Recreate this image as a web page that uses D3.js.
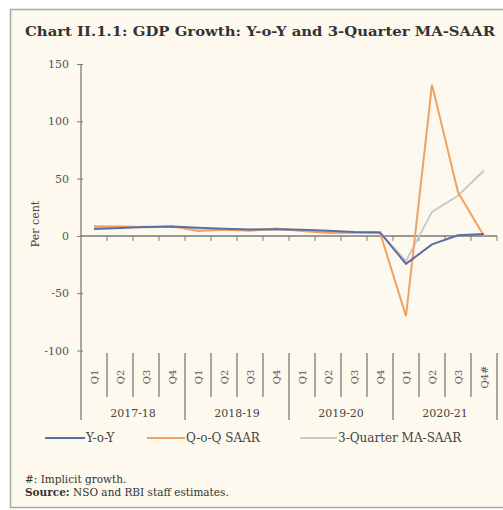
<!DOCTYPE html>
<html><head><meta charset="utf-8">
<script src="https://cdn.jsdelivr.net/npm/d3@7"></script>
<style>
html,body{margin:0;padding:0;background:#fff;}
svg{display:block;}
text{font-family:"DejaVu Serif",serif;}
</style></head>
<body>
<svg id="c" width="503" height="510"></svg>
<script>
const years = ["2017-18","2018-19","2019-20","2020-21"];
const quarters = ["Q1","Q2","Q3","Q4","Q1","Q2","Q3","Q4","Q1","Q2","Q3","Q4","Q1","Q2","Q3","Q4#"];
const yoy   = [6.0, 6.8, 7.7, 8.1, 7.1, 6.2, 5.6, 5.7, 5.4, 4.6, 3.3, 3.0, -24.4, -7.4, 0.5, 1.6];
const qoq   = [8.5, 8.2, 7.6, 8.3, 4.2, 5.4, 4.6, 6.4, 4.2, 2.6, 2.8, 3.0, -70.0, 132.0, 38.0, 0.0];
const maSaar= [7.0, 8.0, 8.0, 7.8, 6.5, 5.8, 5.2, 5.6, 5.2, 4.0, 3.2, 3.0, -22.0, 21.0, 35.0, 57.0];
const yTicks = [150, 100, 50, 0, -50, -100];
const seriesNames = ["Y-o-Y","Q-o-Q SAAR","3-Quarter MA-SAAR"];
const seriesColors = ["#5a6ea6","#f0a262","#c9c9c7"];

const svg = d3.select("#c");
// frame
svg.append("rect").attr("x",10.5).attr("y",9.5).attr("width",500).attr("height",498)
  .attr("fill","#fdf9ee").attr("stroke","#a8a8a4").attr("stroke-width",1.5);

svg.append("text").attr("x",25).attr("y",36).attr("font-size",13).attr("font-weight","bold")
  .attr("fill","#333").attr("textLength",470).attr("lengthAdjust","spacingAndGlyphs")
  .text("Chart II.1.1: GDP Growth: Y-o-Y and 3-Quarter MA-SAAR");

const x0 = 81, step = 26;
const x = d3.scaleLinear().domain([0,16]).range([x0, x0+16*step]);
const y = d3.scaleLinear().domain([-100,150]).range([350.5, 64]);
const gridColor = "#7a7a78";

// y axis
const yAxis = d3.axisLeft(y).tickValues(yTicks).tickSize(4).tickPadding(8).tickFormat(d=>String(d));
const gy = svg.append("g").attr("transform",`translate(${x0},0)`).call(yAxis);
gy.select(".domain").remove();
gy.selectAll(".tick line").attr("stroke",gridColor).attr("x2",-4).attr("x1",2);
gy.selectAll(".tick text").attr("font-size",11).attr("fill","#555").attr("font-family","DejaVu Serif");
svg.append("line").attr("x1",x0).attr("x2",x0).attr("y1",64).attr("y2",420).attr("stroke",gridColor).attr("stroke-width",1.3);

svg.append("text").attr("transform","translate(39,224) rotate(-90)").attr("text-anchor","middle")
  .attr("font-size",11).attr("fill","#444").text("Per cent");

// zero line with ticks
svg.append("line").attr("x1",x0).attr("x2",x(16)).attr("y1",y(0)).attr("y2",y(0)).attr("stroke",gridColor).attr("stroke-width",1.5);
d3.range(1,17).forEach(i=>{
  svg.append("line").attr("x1",x(i)).attr("x2",x(i)).attr("y1",y(0)).attr("y2",y(0)+5).attr("stroke",gridColor);
});

// category axis
const sepTop = 353;
d3.range(1,17).forEach(i=>{
  const major = i%4===0;
  svg.append("line").attr("x1",x(i)).attr("x2",x(i)).attr("y1",sepTop).attr("y2",major?420:397)
    .attr("stroke",gridColor).attr("stroke-width",1.3);
});
quarters.forEach((q,i)=>{
  svg.append("text").attr("transform",`translate(${x(i+0.5)+4},377) rotate(-90)`).attr("text-anchor","middle")
    .attr("font-size",10).attr("fill","#555").text(q);
});
years.forEach((yr,i)=>{
  svg.append("text").attr("x",x(i*4+2)).attr("y",417).attr("text-anchor","middle")
    .attr("font-size",11).attr("fill","#444").text(yr);
});

// lines
const line = d3.line().x((d,i)=>x(i+0.5)).y(d=>y(d));
[maSaar, qoq, yoy].forEach((s,k)=>{
  const idx = [2,1,0][k];
  svg.append("path").datum(s).attr("d",line).attr("fill","none")
    .attr("stroke",seriesColors[idx]).attr("stroke-width",2);
});

// legend
const legX = [[45,85],[147,185],[300,337]];
seriesNames.forEach((n,i)=>{
  svg.append("line").attr("x1",legX[i][0]).attr("x2",legX[i][1]).attr("y1",438).attr("y2",438)
    .attr("stroke",seriesColors[i]).attr("stroke-width",2);
  svg.append("text").attr("x",legX[i][1]+1).attr("y",442).attr("font-size",12).attr("fill","#444").text(n);
});

svg.append("text").attr("x",25).attr("y",483).attr("font-size",10.5).attr("fill","#333").text("#: Implicit growth.");
const src = svg.append("text").attr("x",25).attr("y",496).attr("font-size",10.5).attr("fill","#333");
src.append("tspan").attr("font-weight","bold").text("Source:");
src.append("tspan").text(" NSO and RBI staff estimates.");
</script>
</body></html>
